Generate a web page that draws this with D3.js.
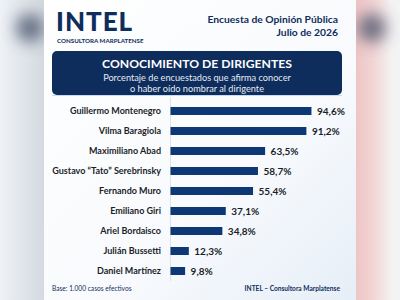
<!DOCTYPE html>
<html>
<head>
<meta charset="utf-8">
<script src="https://cdn.jsdelivr.net/npm/d3@7"></script>
<style>
  html, body { margin: 0; padding: 0; background: #fff; }
  svg { display: block; font-family: Lato, "Open Sans", sans-serif; }
</style>
</head>
<body>
<div id="chart"></div>
<script>
// Conocimiento de dirigentes (%)
const names = ['Guillermo Montenegro', 'Vilma Baragiola', 'Maximiliano Abad', 'Gustavo \u201cTato\u201d Serebrinsky',
  'Fernando Muro', 'Emiliano Giri', 'Ariel Bordaisco', 'Julián Bussetti', 'Daniel Martínez'];
const values = [94.6, 91.2, 63.5, 58.7, 55.4, 37.1, 34.8, 12.3, 9.8];
const valueLabels = ['94,6%', '91,2%', '63,5%', '58,7%', '55,4%', '37,1%', '34,8%', '12,3%', '9,8%'];

const width = 400, height = 300;
const navy = '#0f2d5c';
const barColor = '#0d3875';

const svg = d3.select('#chart').append('svg').attr('width', width).attr('height', height);
const defs = svg.append('defs');

// fondo borroso a los costados
const bgL = defs.append('linearGradient').attr('id', 'bgL').attr('x1', 0).attr('x2', 1).attr('y1', 0).attr('y2', 0);
bgL.append('stop').attr('offset', 0).attr('stop-color', '#eef2f6');
bgL.append('stop').attr('offset', 1).attr('stop-color', '#d4d9df');
svg.append('rect').attr('x', 0).attr('y', 0).attr('width', 45).attr('height', height).attr('fill', 'url(#bgL)');

const bgR = defs.append('linearGradient').attr('id', 'bgR').attr('x1', 0).attr('x2', 1).attr('y1', 0).attr('y2', 0);
bgR.append('stop').attr('offset', 0).attr('stop-color', '#eec4c4');
bgR.append('stop').attr('offset', 0.4).attr('stop-color', '#f2d4d4');
bgR.append('stop').attr('offset', 0.8).attr('stop-color', '#f4f1f1');
bgR.append('stop').attr('offset', 1).attr('stop-color', '#f3f3f4');
svg.append('rect').attr('x', 355).attr('y', 0).attr('width', 45).attr('height', height).attr('fill', 'url(#bgR)');

const blur = defs.append('filter').attr('id', 'blur').attr('x', '-100%').attr('y', '-100%').attr('width', '300%').attr('height', '300%');
blur.append('feGaussianBlur').attr('stdDeviation', 8);
svg.append('ellipse').attr('cx', 30).attr('cy', 28).attr('rx', 14).attr('ry', 14).attr('fill', '#3a4660').attr('opacity', 0.75).attr('filter', 'url(#blur)');
svg.append('ellipse').attr('cx', 372).attr('cy', 28).attr('rx', 14).attr('ry', 14).attr('fill', '#3a4660').attr('opacity', 0.75).attr('filter', 'url(#blur)');

// tarjeta
const cardG = defs.append('linearGradient').attr('id', 'card').attr('x1', 0).attr('x2', 1).attr('y1', 0).attr('y2', 1);
cardG.append('stop').attr('offset', 0).attr('stop-color', '#ffffff');
cardG.append('stop').attr('offset', 0.6).attr('stop-color', '#f8fafd');
cardG.append('stop').attr('offset', 1).attr('stop-color', '#e6eef7');
svg.append('rect').attr('x', 44).attr('y', 0).attr('width', 312).attr('height', height).attr('fill', 'url(#card)');

// encabezado
svg.append('text').attr('x', 56).attr('y', 30.5).attr('fill', navy)
  .attr('font-size', 26).attr('font-weight', 900).attr('letter-spacing', 1).text('INTEL');
svg.append('text').attr('x', 57).attr('y', 42.5).attr('fill', navy)
  .attr('font-size', 6.2).attr('font-weight', 700).text('CONSULTORA MARPLATENSE');

svg.append('text').attr('x', 338).attr('y', 23).attr('text-anchor', 'end').attr('fill', navy)
  .attr('font-size', 10.3).attr('font-weight', 700).text('Encuesta de Opinión Pública');
svg.append('text').attr('x', 338).attr('y', 36).attr('text-anchor', 'end').attr('fill', navy)
  .attr('font-size', 10.3).attr('font-weight', 700).text('Julio de 2026');

svg.append('rect').attr('x', 52).attr('y', 51).attr('width', 290).attr('height', 44).attr('rx', 5).attr('fill', navy);
svg.append('line').attr('x1', 52).attr('x2', 342).attr('y1', 95.5).attr('y2', 95.5).attr('stroke', '#c9dcef').attr('stroke-width', 1.2);
svg.append('text').attr('x', 197).attr('y', 68).attr('text-anchor', 'middle').attr('fill', '#fff')
  .attr('font-size', 12.2).attr('font-weight', 700).text('CONOCIMIENTO DE DIRIGENTES');
svg.append('text').attr('x', 197).attr('y', 80.5).attr('text-anchor', 'middle').attr('fill', '#e3eaf4')
  .attr('font-size', 9.2).text('Porcentaje de encuestados que afirma conocer');
svg.append('text').attr('x', 197).attr('y', 91.5).attr('text-anchor', 'middle').attr('fill', '#e3eaf4')
  .attr('font-size', 9.2).text('o haber oído nombrar al dirigente');

// barras
const x = d3.scaleLinear().domain([0, 100]).range([170, 319]);
const y = d3.scaleBand().domain(names).range([101, 281]).paddingInner(0.6).paddingOuter(0.3);

svg.append('line').attr('x1', 170.5).attr('x2', 170.5).attr('y1', 97).attr('y2', 281)
  .attr('stroke', '#dde3ea').attr('stroke-width', 1);

const rows = svg.append('g').selectAll('g').data(names).join('g');
rows.append('rect')
  .attr('x', x(0) + 0.5)
  .attr('y', d => y(d))
  .attr('width', (d, i) => x(values[i]) - x(0))
  .attr('height', y.bandwidth())
  .attr('fill', barColor);
rows.append('text')
  .attr('x', 161)
  .attr('y', d => y(d) + y.bandwidth() / 2)
  .attr('dy', '0.35em')
  .attr('text-anchor', 'end')
  .attr('fill', '#1b1f2a')
  .attr('font-size', 9).attr('font-weight', 700)
  .text(d => d);
rows.append('text')
  .attr('x', (d, i) => x(values[i]) + 6)
  .attr('y', d => y(d) + y.bandwidth() / 2)
  .attr('dy', '0.35em')
  .attr('fill', '#1b1f2a')
  .attr('font-size', 10).attr('font-weight', 700)
  .text((d, i) => valueLabels[i]);

// pie
svg.append('text').attr('x', 52).attr('y', 291).attr('fill', navy)
  .attr('font-size', 6.6).text('Base: 1.000 casos efectivos');
svg.append('text').attr('x', 340).attr('y', 291).attr('text-anchor', 'end').attr('fill', navy)
  .attr('font-size', 6.6).attr('font-weight', 700).text('INTEL \u2013 Consultora Marplatense');
</script>
</body>
</html>
